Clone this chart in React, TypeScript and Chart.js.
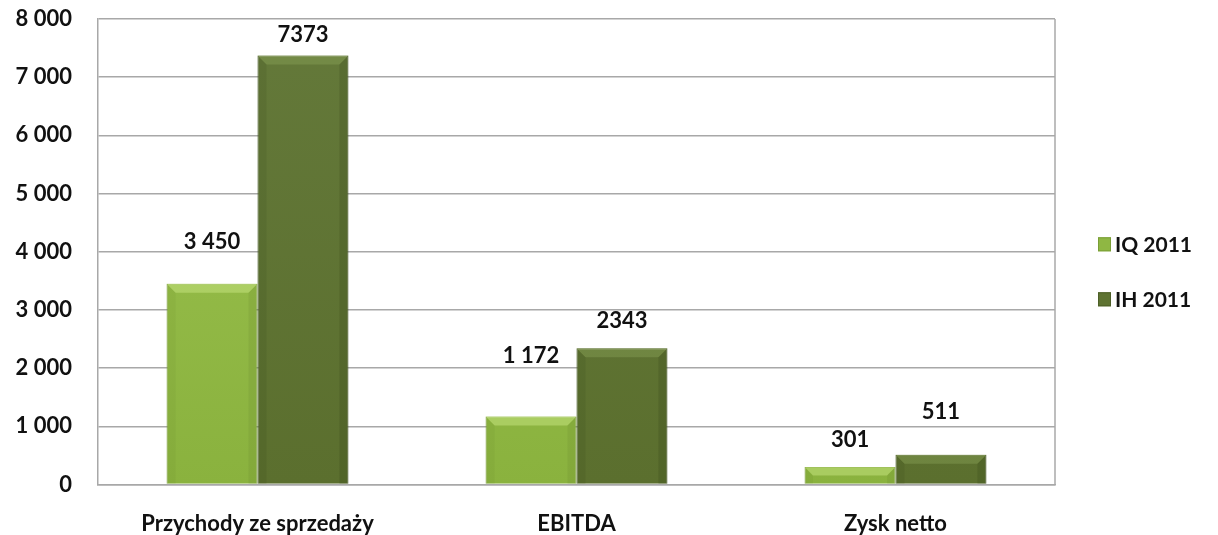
import React, { useEffect, useRef } from "react";
import { Chart, registerables } from "chart.js";

Chart.register(...registerables);

const categories = ["Przychody ze sprzedaży", "EBITDA", "Zysk netto"];
const seriesNames = ["IQ 2011", "IH 2011"];
const iqValues = [3450, 1172, 301];
const ihValues = [7373, 2343, 511];
const iqLabels = ["3 450", "1 172", "301"];
const ihLabels = ["7373", "2343", "511"];
const yTicks = [0, 1000, 2000, 3000, 4000, 5000, 6000, 7000, 8000];

const FONT = "Lato, 'Open Sans', sans-serif";
const seriesFill = ["#8fb743", "#5e7331"];
const seriesStroke = ["#7a9e36", "#4d5f27"];
const bevelLight = ["rgba(200,230,130,0.5)", "rgba(140,165,90,0.4)"];
const bevelDark = ["rgba(80,110,30,0.12)", "rgba(40,55,15,0.18)"];

// pixel gaps between bar top and label centre (style only)
const labelGaps = [
  [42, 60, 27],
  [21, 27, 43],
];

function drawBevel(ctx: any, bar: any, di: number) {
  const w = bar.width;
  const x0 = bar.x - w / 2;
  const x1 = bar.x + w / 2;
  const y0 = bar.y;
  const y1 = bar.base;
  const b = Math.min(9, (y1 - y0) / 2);
  // top bevel
  ctx.fillStyle = bevelLight[di];
  ctx.beginPath();
  ctx.moveTo(x0, y0);
  ctx.lineTo(x1, y0);
  ctx.lineTo(x1 - b, y0 + b);
  ctx.lineTo(x0 + b, y0 + b);
  ctx.closePath();
  ctx.fill();
  // right side
  ctx.fillStyle = bevelDark[di];
  ctx.beginPath();
  ctx.moveTo(x1, y0);
  ctx.lineTo(x1, y1);
  ctx.lineTo(x1 - b, y1);
  ctx.lineTo(x1 - b, y0 + b);
  ctx.closePath();
  ctx.fill();
  // left side (lighter)
  ctx.globalAlpha = 0.6;
  ctx.beginPath();
  ctx.moveTo(x0, y0);
  ctx.lineTo(x0, y1);
  ctx.lineTo(x0 + b, y1);
  ctx.lineTo(x0 + b, y0 + b);
  ctx.closePath();
  ctx.fill();
  ctx.globalAlpha = 1;
}

const frameLabelsLegend = {
  id: "frameLabelsLegend",
  beforeDatasetsDraw(chart: any) {
    const { ctx, chartArea } = chart;
    ctx.save();
    ctx.strokeStyle = "#a8a8a8";
    ctx.lineWidth = 1.5;
    ctx.beginPath();
    ctx.moveTo(chartArea.right, chartArea.top);
    ctx.lineTo(chartArea.right, chartArea.bottom);
    ctx.stroke();
    ctx.restore();
  },
  afterDatasetsDraw(chart: any) {
    const { ctx, chartArea } = chart;
    const labels = [iqLabels, ihLabels];
    ctx.save();
    chart.data.datasets.forEach((_: any, di: number) => {
      chart.getDatasetMeta(di).data.forEach((bar: any) => drawBevel(ctx, bar, di));
    });
    ctx.font = `bold 22px ${FONT}`;
    ctx.fillStyle = "#111";
    ctx.textAlign = "center";
    ctx.textBaseline = "middle";
    chart.data.datasets.forEach((_: any, di: number) => {
      const meta = chart.getDatasetMeta(di);
      meta.data.forEach((bar: any, i: number) => {
        ctx.fillText(labels[di][i], bar.x, bar.y - labelGaps[di][i]);
      });
    });

    // legend
    const lx = chartArea.right + 43;
    const midY = (chartArea.top + chartArea.bottom) / 2 + 20;
    const step = 55;
    ctx.textAlign = "left";
    ctx.font = `bold 21px ${FONT}`;
    seriesNames.forEach((name, i) => {
      const cy = midY + (i - 0.5) * step;
      ctx.fillStyle = seriesFill[i];
      ctx.fillRect(lx, cy - 7, 13, 14);
      ctx.strokeStyle = seriesStroke[i];
      ctx.lineWidth = 1;
      ctx.strokeRect(lx + 0.5, cy - 6.5, 12, 13);
      ctx.fillStyle = "#111";
      ctx.fillText(name, lx + 17, cy + 1);
    });
    ctx.restore();
  },
};

function makeGradient(chart: any, top: string, bottom: string) {
  const { ctx, chartArea } = chart;
  if (!chartArea) return bottom;
  const g = ctx.createLinearGradient(0, chartArea.top, 0, chartArea.bottom);
  g.addColorStop(0, top);
  g.addColorStop(1, bottom);
  return g;
}

export default function App() {
  const ref = useRef<HTMLCanvasElement | null>(null);

  useEffect(() => {
    if (!ref.current) return;
    const chart = new Chart(ref.current, {
      type: "bar",
      data: {
        labels: categories,
        datasets: [
          {
            label: seriesNames[0],
            data: iqValues,
            backgroundColor: (c: any) => makeGradient(c.chart, "#9cc250", "#8ab23e"),
            borderColor: seriesStroke[0],
            borderWidth: 1,
            barPercentage: 1,
            categoryPercentage: 0.57,
          },
          {
            label: seriesNames[1],
            data: ihValues,
            backgroundColor: (c: any) => makeGradient(c.chart, "#64793a", "#5b6f2e"),
            borderColor: seriesStroke[1],
            borderWidth: 1,
            barPercentage: 1,
            categoryPercentage: 0.57,
          },
        ],
      },
      plugins: [frameLabelsLegend],
      options: {
        responsive: false,
        maintainAspectRatio: false,
        devicePixelRatio: 1,
        animation: false,
        layout: { padding: { top: 19, left: 10, right: 163, bottom: -28 } },
        plugins: {
          tooltip: { enabled: false },
          legend: { display: false },
        },
        scales: {
          x: {
            grid: { display: false, drawTicks: false },
            border: { display: true, color: "#a8a8a8", width: 1.5 },
            ticks: {
              color: "#111",
              padding: 26,
              font: { family: FONT, size: 22, weight: "bold" },
            },
          },
          y: {
            min: 0,
            max: 8000,
            afterBuildTicks: (axis: any) => {
              axis.ticks = yTicks.map((v) => ({ value: v }));
            },
            afterFit: (axis: any) => {
              axis.width = 88;
              axis.paddingTop = 0;
            },
            grid: { color: "#a8a8a8", lineWidth: 1.5, drawTicks: false },
            border: { display: true, color: "#a8a8a8", width: 1.5 },
            ticks: {
              color: "#111",
              padding: 26,
              font: { family: FONT, size: 22, weight: "bold" },
              callback: (v: any) =>
                String(v).replace(/\B(?=(\d{3})+(?!\d))/g, " "),
            },
          },
        },
      },
    });
    return () => chart.destroy();
  }, []);

  return (
    <div
      style={{
        position: "fixed",
        left: 0,
        top: 0,
        width: 1218,
        height: 535,
        background: "#fff",
      }}
    >
      <canvas ref={ref} width={1218} height={535} style={{ display: "block" }} />
    </div>
  );
}
